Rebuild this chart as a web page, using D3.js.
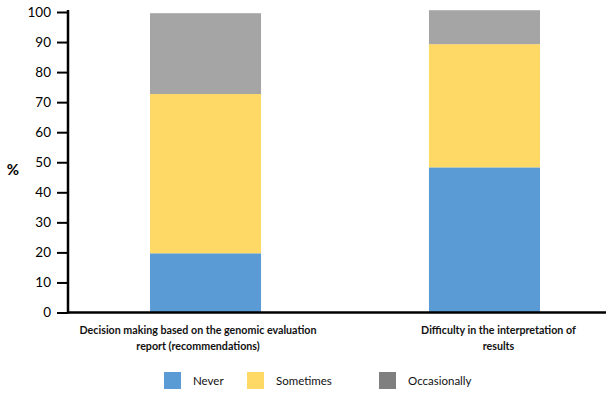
<!DOCTYPE html>
<html><head><meta charset="utf-8">
<script src="https://cdn.jsdelivr.net/npm/d3@7"></script>
<style>body{margin:0;background:#fff}svg{display:block}</style>
</head><body>
<svg id="c" width="613" height="401"></svg>
<script>
const categories = [
  ["Decision making based on the genomic evaluation", "report (recommendations)"],
  ["Difficulty in the interpretation of", "results"]
];
const seriesNames = ["Never", "Sometimes", "Occasionally"];
const never = [19.7, 48.3];
const sometimes = [53.0, 41.0];
const occasionally = [26.9, 11.3];
const yTicks = [0,10,20,30,40,50,60,70,80,90,100];

const barColors = ["#5B9BD5", "#FFD966", "#A5A5A5"];
const legendColors = ["#5B9BD5", "#FFD966", "#7F7F7F"];

const svg = d3.select("#c");
const font = "Lato, 'Open Sans', sans-serif";
const x0 = 68, x1 = 606, yTop = 12, yBot = 312.5;
const x = d3.scaleBand().domain([0,1]).range([x0, 622]).paddingInner(0.602).paddingOuter(0.294);
const y = d3.scaleLinear().domain([0,100]).range([yBot, yTop]);

const rows = categories.map((c,i)=>({i, Never:never[i], Sometimes:sometimes[i], Occasionally:occasionally[i]}));
const stack = d3.stack().keys(seriesNames)(rows);

svg.append("g").selectAll("g").data(stack).join("g")
  .attr("fill",(d,i)=>barColors[i])
  .selectAll("rect").data(d=>d).join("rect")
  .attr("x",d=>x(d.data.i)).attr("width",x.bandwidth())
  .attr("y",d=>y(d[1])).attr("height",d=>y(d[0])-y(d[1]));

// y axis
const yAxis = svg.append("g").attr("transform",`translate(${x0},0)`)
  .call(d3.axisLeft(y).tickValues(yTicks).tickSize(11).tickPadding(6));
yAxis.select(".domain").remove();
yAxis.selectAll(".tick line").attr("stroke","#000").attr("stroke-width",2);
yAxis.selectAll(".tick text").attr("font-family",font).attr("font-size",13.5).attr("fill","#000");
svg.append("line").attr("x1",x0).attr("x2",x0).attr("y1",yTop-2).attr("y2",yBot+1)
  .attr("stroke","#000").attr("stroke-width",2.5);
// x axis line
svg.append("line").attr("x1",x0-1).attr("x2",x1).attr("y1",yBot).attr("y2",yBot)
  .attr("stroke","#000").attr("stroke-width",2.5);

svg.append("text").attr("x",13).attr("y",175).attr("text-anchor","middle")
  .attr("font-family",font).attr("font-weight","bold").attr("font-size",15).text("%");

// category labels
const labelOffset = [-7.5, 14];
categories.forEach((lines,i)=>{
  const cx = x(i)+x.bandwidth()/2+labelOffset[i];
  const t = svg.append("text").attr("text-anchor","middle").attr("font-family",font)
    .attr("font-weight","bold").attr("font-size",10.7).attr("fill","#111");
  lines.forEach((l,j)=>t.append("tspan").attr("x",cx).attr("y",334+j*16).text(l));
});

// legend
const legX = [164, 247, 379];
const lg = svg.append("g");
seriesNames.forEach((n,i)=>{
  lg.append("rect").attr("x",legX[i]).attr("y",372).attr("width",17).attr("height",17).attr("fill",legendColors[i]);
  lg.append("text").attr("x",legX[i]+29).attr("y",385).attr("font-family",font)
    .attr("font-size",11.5).attr("fill","#111").text(n);
});
</script>
</body></html>
